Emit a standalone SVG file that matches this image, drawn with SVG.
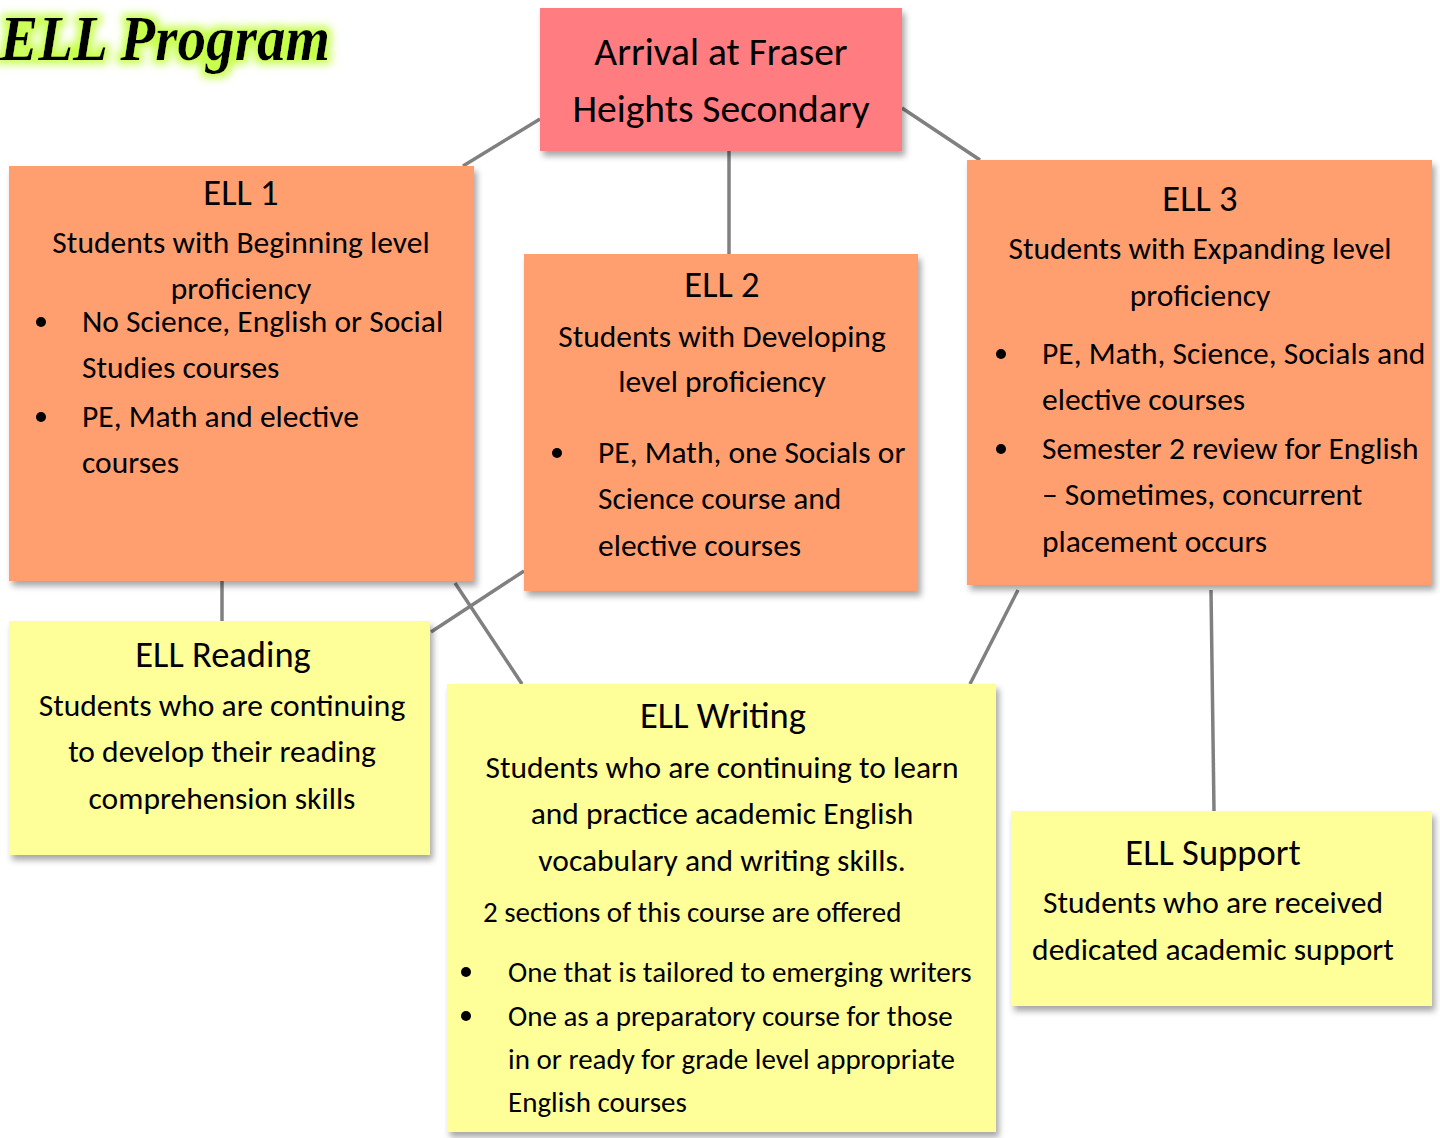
<svg xmlns="http://www.w3.org/2000/svg" width="1440" height="1138" viewBox="0 0 1440 1138">
<defs>
<filter id="sh" x="-5%" y="-5%" width="115%" height="120%">
<feDropShadow dx="3" dy="5" stdDeviation="3" flood-color="#000" flood-opacity="0.35"/>
</filter>
<filter id="glow" x="-10%" y="-30%" width="120%" height="160%">
<feMorphology in="SourceAlpha" operator="dilate" radius="4" result="d"/>
<feGaussianBlur in="d" stdDeviation="4" result="b"/>
<feFlood flood-color="#c6ff4a"/>
<feComposite in2="b" operator="in" result="g"/>
<feMerge><feMergeNode in="g"/><feMergeNode in="SourceGraphic"/></feMerge>
</filter>
</defs>
<style>
text{font-family:Carlito,Lato,"Open Sans",sans-serif;fill:#000}
.c{text-anchor:middle}
.h{font-size:36.5px;font-weight:500}
.s{font-size:31.5px;font-weight:500}
.b{font-size:31.5px;font-weight:300}
.w{font-size:29px;font-weight:300}
.orange{fill:#FF9F6F}
.yellow{fill:#FFFF99}
.conn line{stroke:#808080;stroke-width:3.5}
</style>
<text x="0" y="60" font-style="italic" font-weight="bold" font-size="64" textLength="330" lengthAdjust="spacingAndGlyphs" filter="url(#glow)" style="font-family:'Liberation Serif',serif">ELL Program</text>
<g id="connectors" class="conn">
<line x1="540" y1="119" x2="463" y2="166"/>
<line x1="902" y1="108" x2="980" y2="160"/>
<line x1="729" y1="151" x2="729" y2="254"/>
<line x1="222" y1="581" x2="222" y2="621"/>
<line x1="455" y1="583" x2="522" y2="684"/>
<line x1="524" y1="571" x2="431" y2="632"/>
<line x1="1018" y1="590" x2="970" y2="684"/>
<line x1="1211" y1="590" x2="1214" y2="811"/>
</g>
<g id="arrival">
<rect x="540" y="8" width="362" height="143" fill="#FF7C80" filter="url(#sh)"/>
<text class="c" x="721" y="65" font-size="39.5">Arrival at Fraser</text>
<text class="c" x="721" y="122" font-size="39.5">Heights Secondary</text>
</g>
<g id="ell1">
<rect class="orange" x="9" y="166" width="465" height="415" filter="url(#sh)"/>
<text class="c h" x="241" y="205">ELL 1</text>
<text class="c s" x="241" y="253">Students with Beginning level</text>
<text class="c s" x="241" y="299">proficiency</text>
<circle cx="41" cy="322" r="5"/>
<text class="b" x="82" y="332">No Science, English or Social</text>
<text class="b" x="82" y="378">Studies courses</text>
<circle cx="41" cy="417" r="5"/>
<text class="b" x="82" y="427">PE, Math and elective</text>
<text class="b" x="82" y="473">courses</text>
</g>
<g id="ell2">
<rect class="orange" x="524" y="254" width="394" height="337" filter="url(#sh)"/>
<text class="c h" x="722" y="297">ELL 2</text>
<text class="c s" x="722" y="347">Students with Developing</text>
<text class="c s" x="722" y="392">level proficiency</text>
<circle cx="557" cy="453" r="5"/>
<text class="b" x="598" y="463">PE, Math, one Socials or</text>
<text class="b" x="598" y="509">Science course and</text>
<text class="b" x="598" y="556">elective courses</text>
</g>
<g id="ell3">
<rect class="orange" x="967" y="160" width="465" height="425" filter="url(#sh)"/>
<text class="c h" x="1200" y="211">ELL 3</text>
<text class="c s" x="1200" y="259">Students with Expanding level</text>
<text class="c s" x="1200" y="306">proficiency</text>
<circle cx="1001" cy="354" r="5"/>
<text class="b" x="1042" y="364">PE, Math, Science, Socials and</text>
<text class="b" x="1042" y="410">elective courses</text>
<circle cx="1001" cy="449" r="5"/>
<text class="b" x="1042" y="459">Semester 2 review for English</text>
<text class="b" x="1042" y="505">– Sometimes, concurrent</text>
<text class="b" x="1042" y="552">placement occurs</text>
</g>
<g id="ell-reading">
<rect class="yellow" x="9" y="621" width="421" height="234" filter="url(#sh)"/>
<text class="c h" x="223" y="667">ELL Reading</text>
<text class="c s" x="222" y="716">Students who are continuing</text>
<text class="c s" x="222" y="762">to develop their reading</text>
<text class="c s" x="222" y="809">comprehension skills</text>
</g>
<g id="ell-writing">
<rect class="yellow" x="447" y="684" width="549" height="448" filter="url(#sh)"/>
<text class="c h" x="723" y="728">ELL Writing</text>
<text class="c s" x="722" y="778">Students who are continuing to learn</text>
<text class="c s" x="722" y="824">and practice academic English</text>
<text class="c s" x="722" y="871">vocabulary and writing skills.</text>
<text class="w" x="483" y="922">2 sections of this course are offered</text>
<circle cx="466" cy="972" r="5"/>
<text class="w" x="508" y="982">One that is tailored to emerging writers</text>
<circle cx="466" cy="1016" r="5"/>
<text class="w" x="508" y="1026">One as a preparatory course for those</text>
<text class="w" x="508" y="1069">in or ready for grade level appropriate</text>
<text class="w" x="508" y="1112">English courses</text>
</g>
<g id="ell-support">
<rect class="yellow" x="1011" y="811" width="421" height="195" filter="url(#sh)"/>
<text class="c h" x="1213" y="865">ELL Support</text>
<text class="c s" x="1213" y="913">Students who are received</text>
<text class="c s" x="1213" y="960">dedicated academic support</text>
</g>
</svg>
